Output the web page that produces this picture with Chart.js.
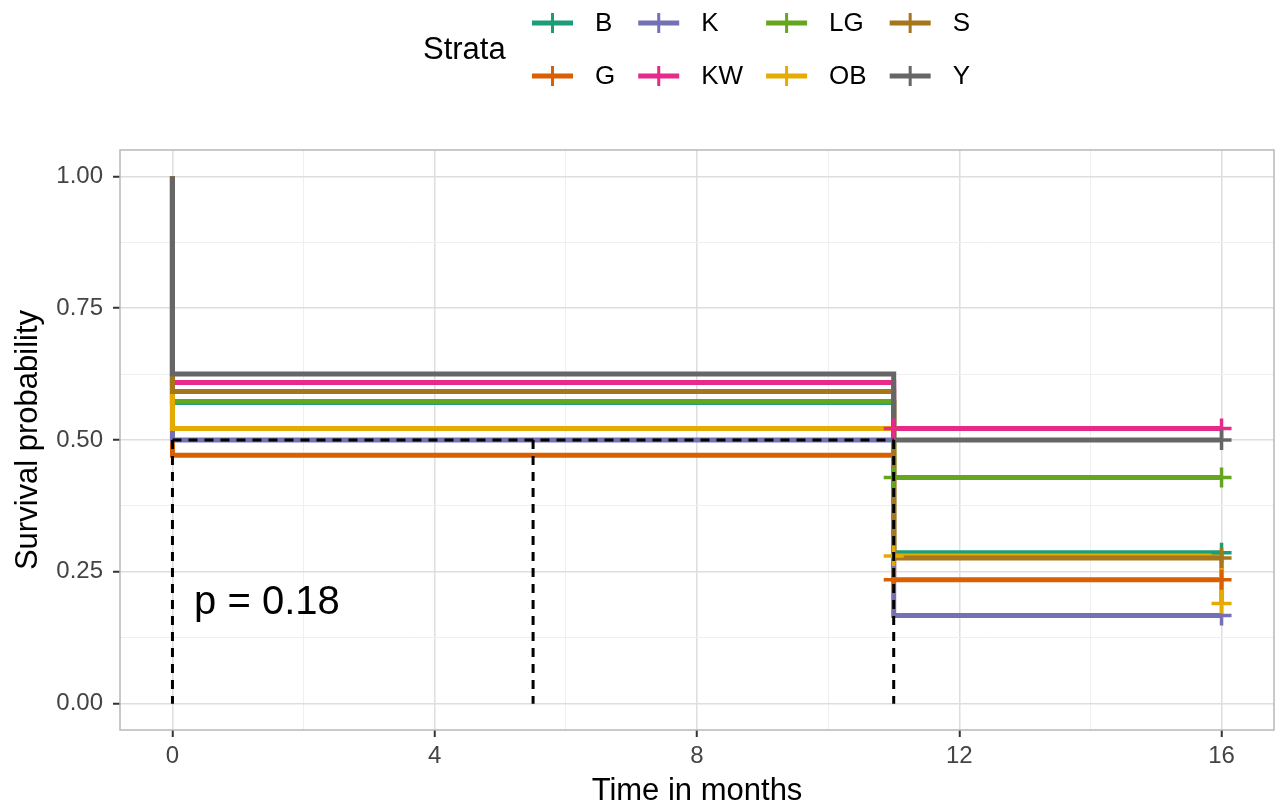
<!DOCTYPE html>
<html>
<head>
<meta charset="utf-8">
<script src="https://cdn.jsdelivr.net/npm/chart.js@4/dist/chart.umd.min.js"></script>
<style>
  html, body { margin: 0; padding: 0; background: #ffffff; }
  #wrap { width: 1278px; height: 810px; }
</style>
</head>
<body>
<div id="wrap"><canvas id="c" width="1278" height="810"></canvas></div>
<script>
// ---------------- DATA ----------------
const strata = ['B', 'G', 'K', 'KW', 'LG', 'OB', 'S', 'Y'];
const strataColors = ['#1B9E77', '#D95F02', '#7570B3', '#E7298A', '#66A61E', '#E6AB02', '#A6761D', '#666666'];

// step times (months) and survival probability after each time
const timesB  = [0, 0, 11, 16];        const survB  = [1, 0.571, 0.286, 0.286];
const timesG  = [0, 0, 11, 16];        const survG  = [1, 0.471, 0.235, 0.235];
const timesK  = [0, 0, 11, 16];        const survK  = [1, 0.500, 0.167, 0.167];
const timesKW = [0, 0, 11, 16];        const survKW = [1, 0.609, 0.522, 0.522];
const timesLG = [0, 0, 11, 16];        const survLG = [1, 0.573, 0.429, 0.429];
const timesOB = [0, 0, 11, 16];        const survOB = [1, 0.522, 0.280, 0.190];
const timesS  = [0, 0, 11, 16];        const survS  = [1, 0.592, 0.276, 0.276];
const timesY  = [0, 0, 11, 16];        const survY  = [1, 0.625, 0.500, 0.500];

// censoring marks
const censTimesB  = [16];     const censSurvB  = [0.286];
const censTimesG  = [11, 16]; const censSurvG  = [0.235, 0.235];
const censTimesK  = [16];     const censSurvK  = [0.167];
const censTimesKW = [11, 16]; const censSurvKW = [0.522, 0.522];
const censTimesLG = [11, 16]; const censSurvLG = [0.429, 0.429];
const censTimesOB = [11, 16]; const censSurvOB = [0.280, 0.190];
const censTimesS  = [16];     const censSurvS  = [0.276];
const censTimesY  = [16];     const censSurvY  = [0.500];

// median survival lines
const medianTimes = [0, 5.5, 11];
const medianLevel = 0.5;

// p-value annotation
const pValueText = 'p = 0.18';
const pValueX = 0.33;
const pValueY = 0.17;

// axes
const xTickValues = [0, 2, 4, 6, 8, 10, 12, 14, 16];
const xTickLabels = ['0', '', '4', '', '8', '', '12', '', '16'];
const yTickValues = [0, 0.125, 0.25, 0.375, 0.5, 0.625, 0.75, 0.875, 1];
const yTickLabels = ['0.00', '', '0.25', '', '0.50', '', '0.75', '', '1.00'];
const xTitle = 'Time in months';
const yTitle = 'Survival probability';
const legendTitle = 'Strata';

// ---------------- BUILD ----------------
const curveTimes = [timesB, timesG, timesK, timesKW, timesLG, timesOB, timesS, timesY];
const curveSurv  = [survB, survG, survK, survKW, survLG, survOB, survS, survY];
const censTimes  = [censTimesB, censTimesG, censTimesK, censTimesKW, censTimesLG, censTimesOB, censTimesS, censTimesY];
const censSurv   = [censSurvB, censSurvG, censSurvK, censSurvKW, censSurvLG, censSurvOB, censSurvS, censSurvY];

const FONT = '"Liberation Sans", Arial, Helvetica, sans-serif';
Chart.defaults.font.family = FONT;

const datasets = [];
const n = strata.length;
strata.forEach((name, i) => {
  datasets.push({
    type: 'line',
    label: name,
    data: curveTimes[i].map((t, j) => ({ x: t, y: curveSurv[i][j] })),
    borderColor: strataColors[i],
    backgroundColor: strataColors[i],
    borderWidth: 5,
    stepped: true,
    pointRadius: 0,
    fill: false,
    order: 20 + (n - 1 - i)
  });
  datasets.push({
    type: 'line',
    label: name + ' censor',
    data: censTimes[i].map((t, j) => ({ x: t, y: censSurv[i][j] })),
    showLine: false,
    pointStyle: 'cross',
    pointRadius: 10,
    pointBorderWidth: 3.5,
    pointBorderColor: strataColors[i],
    pointBackgroundColor: strataColors[i],
    order: 2 + (n - 1 - i)
  });
});

// median lines (dashed, black)
const dashStyle = { borderColor: '#000000', borderWidth: 3, borderDash: [9, 7], pointRadius: 0, fill: false, order: 0, type: 'line' };
datasets.push(Object.assign({
  label: 'median-h',
  data: [{ x: Math.min(...medianTimes), y: medianLevel }, { x: Math.max(...medianTimes), y: medianLevel }]
}, dashStyle));
medianTimes.forEach((t, k) => {
  datasets.push(Object.assign({
    label: 'median-v' + k,
    data: [{ x: t, y: medianLevel }, { x: t, y: 0 }]
  }, dashStyle));
});

const isMajorX = v => xTickLabels[xTickValues.indexOf(v)] !== '';
const isMajorY = v => yTickLabels[yTickValues.findIndex(t => Math.abs(t - v) < 1e-9)] !== '';

const panelPlugin = {
  id: 'panel',
  beforeDatasetsDraw(chart) {
    const { ctx, chartArea: a } = chart;
    ctx.save();
    ctx.strokeStyle = '#b8b8b8';
    ctx.lineWidth = 1.5;
    ctx.strokeRect(a.left, a.top, a.right - a.left, a.bottom - a.top);
    ctx.restore();
  },
  afterDatasetsDraw(chart) {
    const { ctx } = chart;
    const xs = chart.scales.x, ys = chart.scales.y;
    ctx.save();
    ctx.fillStyle = '#000000';
    ctx.font = '40px ' + FONT;
    ctx.textAlign = 'left';
    ctx.textBaseline = 'alphabetic';
    ctx.fillText(pValueText, xs.getPixelForValue(pValueX), ys.getPixelForValue(pValueY));
    ctx.restore();
  },
  afterDraw(chart) {
    const { ctx } = chart;
    ctx.save();
    ctx.fillStyle = '#000000';
    ctx.font = '31px ' + FONT;
    ctx.textAlign = 'left';
    ctx.textBaseline = 'middle';
    ctx.fillText(legendTitle, 423, 50);
    ctx.font = '26px ' + FONT;
    const rows = 2;
    const rowY = [23, 76];
    const keyLen = 41, labelGap = 22, colGap = 23;
    const cols = Math.ceil(strata.length / rows);
    let x = 532;
    for (let c = 0; c < cols; c++) {
      let maxW = 0;
      for (let r = 0; r < rows; r++) {
        const i = c * rows + r;
        if (i >= strata.length) continue;
        const y = rowY[r];
        ctx.strokeStyle = strataColors[i];
        ctx.lineWidth = 5;
        ctx.beginPath();
        ctx.moveTo(x, y); ctx.lineTo(x + keyLen, y);
        ctx.stroke();
        ctx.lineWidth = 3;
        ctx.beginPath();
        ctx.moveTo(x + keyLen / 2, y - 10); ctx.lineTo(x + keyLen / 2, y + 10);
        ctx.stroke();
        ctx.fillStyle = '#000000';
        ctx.fillText(strata[i], x + keyLen + labelGap, y + 1);
        maxW = Math.max(maxW, ctx.measureText(strata[i]).width);
      }
      x += keyLen + labelGap + maxW + colGap;
    }
    ctx.restore();
  }
};

new Chart(document.getElementById('c'), {
  type: 'line',
  data: { datasets },
  options: {
    responsive: false,
    animation: false,
    devicePixelRatio: 1,
    layout: { autoPadding: false, padding: { top: 150, right: 4, left: 0, bottom: 0 } },
    plugins: { legend: { display: false }, tooltip: { enabled: false } },
    scales: {
      x: {
        type: 'linear',
        min: -0.8, max: 16.8,
        afterBuildTicks: s => { s.ticks = xTickValues.map(v => ({ value: v })); },
        afterFit: s => { s.height = 80; s.paddingLeft = 0; s.paddingRight = 0; },
        border: { display: false },
        grid: {
          color: c => (c.tick && isMajorX(c.tick.value)) ? '#dedede' : '#efefef',
          lineWidth: c => (c.tick && isMajorX(c.tick.value)) ? 1.5 : 1,
          tickColor: c => (c.tick && isMajorX(c.tick.value)) ? '#333333' : 'rgba(0,0,0,0)',
          tickWidth: 2,
          tickLength: 7,
          drawTicks: true
        },
        ticks: {
          autoSkip: false, maxRotation: 0, padding: 5,
          color: '#444444', font: { size: 24 },
          callback: v => { const k = xTickValues.indexOf(v); return k >= 0 ? xTickLabels[k] : ''; }
        },
        title: { display: true, text: xTitle, color: '#000000', font: { size: 31 }, padding: { top: 0, bottom: 0 } }
      },
      y: {
        type: 'linear',
        min: -0.05, max: 1.05,
        afterBuildTicks: s => { s.ticks = yTickValues.map(v => ({ value: v })); },
        afterFit: s => { s.width = 120; s.paddingTop = 0; s.paddingBottom = 0; },
        border: { display: false },
        grid: {
          color: c => (c.tick && isMajorY(c.tick.value)) ? '#dedede' : '#efefef',
          lineWidth: c => (c.tick && isMajorY(c.tick.value)) ? 1.5 : 1,
          tickColor: c => (c.tick && isMajorY(c.tick.value)) ? '#333333' : 'rgba(0,0,0,0)',
          tickWidth: 2,
          tickLength: 7,
          drawTicks: true
        },
        ticks: {
          autoSkip: false, padding: 10,
          color: '#444444', font: { size: 24 },
          callback: v => { const k = yTickValues.findIndex(t => Math.abs(t - v) < 1e-9); return k >= 0 ? yTickLabels[k] : ''; }
        },
        title: { display: true, text: yTitle, color: '#000000', font: { size: 31 }, padding: { top: 10, bottom: 0 } }
      }
    }
  },
  plugins: [panelPlugin]
});
</script>
</body>
</html>
